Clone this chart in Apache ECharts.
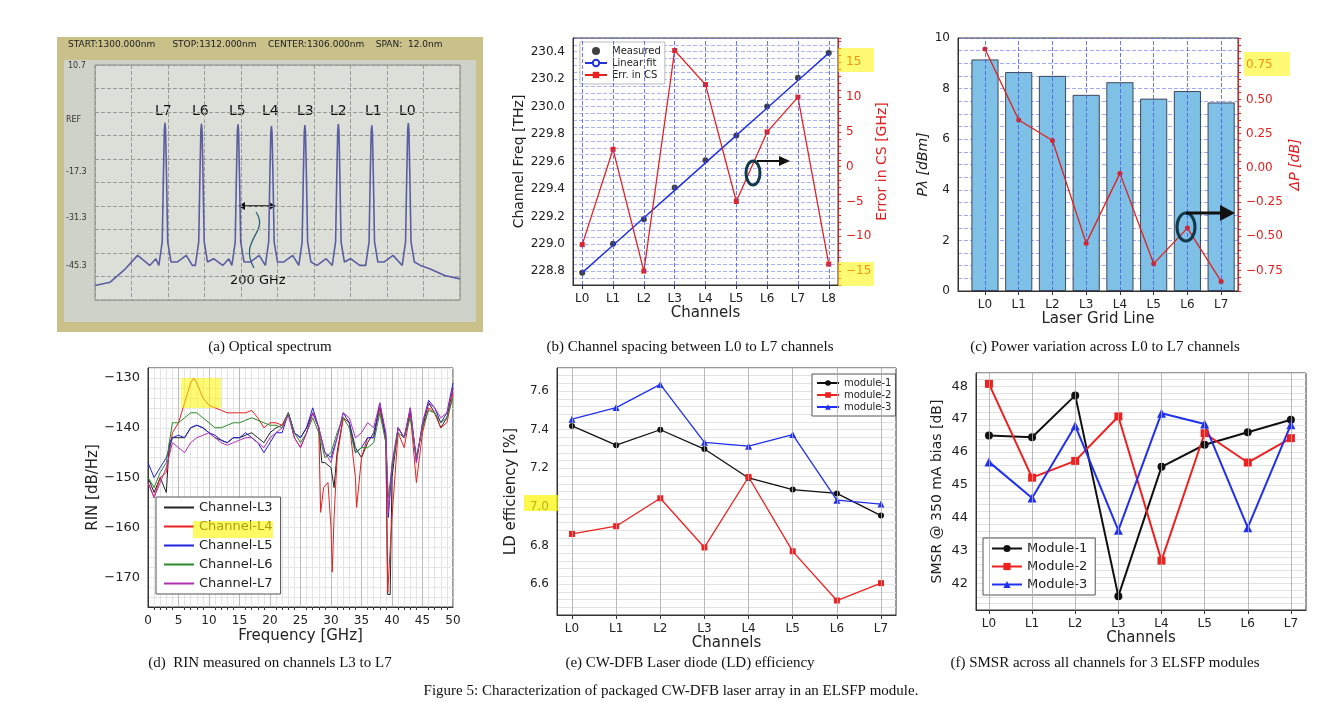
<!DOCTYPE html>
<html><head><meta charset="utf-8">
<script src="https://cdn.jsdelivr.net/npm/echarts@6/dist/echarts.min.js"></script>
<style>html,body{margin:0;background:#fff}#c{width:1342px;height:724px}</style>
</head><body><div id="c"></div>
<script>
// (a) optical spectrum, peaks L7..L0 (nm, dBm)
const specPeaks = [1302.3, 1303.5, 1304.7, 1305.8, 1306.9, 1308.0, 1309.1, 1310.3];
const specPeakLevel = [-6.5, -6.8, -7.0, -7.5, -7.2, -6.9, -7.3, -6.6];
const specFloor = [[1300,-55],[1300.5,-54],[1301,-50],[1301.4,-46],[1301.8,-49],[1302.0,-47],[1302.7,-48],[1303.0,-46],[1303.2,-49],
  [1303.9,-47],[1304.2,-49],[1304.4,-47],[1305.1,-48],[1305.4,-46],[1306.2,-48],[1306.5,-46],[1307.3,-49],[1307.6,-47],
  [1308.4,-47],[1308.7,-49],[1309.5,-48],[1309.8,-46],[1310.7,-49],[1311.0,-50],[1311.5,-52],[1312,-53]];
// (b) channel frequencies
const chB = [0,1,2,3,4,5,6,7,8];
const measured = [228.79, 229.00, 229.18, 229.41, 229.61, 229.79, 230.00, 230.21, 230.39];
const fitLine = [228.79, 228.99, 229.19, 229.39, 229.59, 229.79, 229.99, 230.19, 230.39];
const errCS = [-11.2, 2.5, -15, 16.7, 11.8, -5, 5, 10, -14];
// (c) power
const chC = [0,1,2,3,4,5,6,7];
const power = [9.15, 8.65, 8.5, 7.75, 8.25, 7.6, 7.9, 7.45];
const deltaP = [0.87, 0.35, 0.2, -0.55, -0.04, -0.7, -0.44, -0.83];
// (d) RIN [GHz, dB/Hz]
const rinL3 = [[0,-150],[1,-153],[2,-150],[3,-153],[3.5,-143],[4,-142],[5,-142],[6,-142],[7,-140],[8,-139.5],[9,-140],[10,-141],[11,-142],[12,-142.5],[13,-143],[14,-142],[15,-142],[16,-141.5],[17,-141],[18,-142],[19,-143],[20,-141],[21,-140],[22,-139.5],[23,-137],[24,-141],[25,-142],[26,-140],[27,-137],[28,-140],[28.5,-147],[29,-147],[30,-148],[30.5,-152],[31,-145],[32,-138],[33,-139],[34,-144],[35,-146],[36,-143],[37,-141],[38,-136],[39,-142],[39.3,-173.5],[39.7,-173.5],[40,-150],[41,-140],[42,-142],[43,-137],[44,-146],[45,-140],[46,-135],[47,-137],[48,-140],[49,-138],[50,-132]];
const rinL4 = [[0,-151],[1,-154],[2,-150],[3,-149],[4,-141],[5,-139],[6,-135],[7,-131],[7.5,-130],[8,-131],[9,-134],[10,-135.5],[11,-136],[12,-136.5],[13,-137],[14,-137],[15,-137],[16,-137],[17,-136.5],[18,-138],[19,-140],[20,-139],[21,-139],[22,-139.5],[23,-137],[24,-142],[25,-144],[26,-141],[27,-137],[28,-140],[28.3,-157],[28.8,-152],[29.5,-151],[30,-160],[30.2,-169],[30.5,-158],[31,-146],[32,-138],[33,-139],[34,-150],[34.2,-156],[35,-146],[36,-142],[37,-142],[38,-136],[39,-143],[39.3,-173],[39.6,-173],[40,-158],[41,-141],[42,-144],[43,-137],[44,-151],[45,-141],[46,-136],[47,-137],[48,-140],[49,-139],[50,-133]];
const rinL5 = [[0,-147],[1,-150],[2,-148],[3,-146],[4,-142],[5,-141.5],[6,-142],[7,-140],[8,-139.5],[9,-140],[10,-141],[11,-141.5],[12,-142.5],[13,-143],[14,-142],[15,-142],[16,-141],[17,-142],[18,-143],[19,-145],[20,-143],[21,-141],[22,-141],[23,-137],[24,-141],[25,-142],[26,-140],[27,-136],[28,-140],[29,-145],[30,-146],[31,-142],[32,-137],[33,-139],[34,-145],[35,-144],[36,-142],[37,-142],[38,-135],[39,-142],[39.4,-158],[40,-148],[41,-140],[42,-142],[43,-136],[44,-147],[45,-139],[46,-134.5],[47,-136],[48,-139],[49,-137],[50,-131]];
const rinL6 = [[0,-150],[1,-152],[2,-149],[3,-147],[4,-139],[5,-139],[6,-138],[7,-137],[8,-137],[9,-138],[10,-139],[11,-140],[12,-140],[13,-139.5],[14,-139],[15,-139],[16,-138.5],[17,-138],[18,-138.5],[19,-139],[20,-139.5],[21,-139.5],[22,-140],[23,-137],[24,-141],[25,-143],[26,-141],[27,-138],[28,-141],[29,-146],[30,-145],[31,-141],[32,-138],[33,-140],[34,-145],[35,-144],[36,-144],[37,-143],[38,-137],[39,-143],[39.4,-154],[40,-148],[41,-141],[42,-142],[43,-138],[44,-146],[45,-140],[46,-136.5],[47,-137],[48,-139],[49,-138],[50,-134]];
const rinL7 = [[0,-151],[1,-154],[2,-151],[3,-148],[4,-143],[5,-144],[6,-145],[7,-143],[8,-142],[9,-141.5],[10,-141],[11,-142],[12,-143],[13,-143.5],[14,-143],[15,-142.5],[16,-142],[17,-142],[18,-143],[19,-144],[20,-142],[21,-141],[22,-140],[23,-137.5],[24,-142],[25,-144],[26,-141],[27,-137],[28,-140],[29,-145],[30,-147],[31,-142],[32,-137],[33,-138],[34,-142],[35,-141],[36,-139],[37,-140],[38,-135],[39,-141],[39.4,-157],[40,-147],[41,-140],[42,-142],[43,-136],[44,-147],[45,-139],[46,-135],[47,-136],[48,-138],[49,-137],[50,-132]];
// (e) LD efficiency
const eff1 = [7.42, 7.32, 7.40, 7.30, 7.15, 7.09, 7.07, 6.955];
const eff2 = [6.86, 6.90, 7.045, 6.79, 7.155, 6.77, 6.515, 6.605];
const eff3 = [7.455, 7.515, 7.635, 7.335, 7.315, 7.375, 7.035, 7.015];
// (f) SMSR
const smsr1 = [46.5, 46.45, 47.72, 41.62, 45.55, 46.22, 46.6, 46.98];
const smsr2 = [48.07, 45.22, 45.73, 47.08, 42.7, 46.57, 45.68, 46.42];
const smsr3 = [45.7, 44.6, 46.8, 43.62, 47.18, 46.85, 43.7, 46.83];

// build spectrum points
const spectrum = specFloor.slice();
specPeaks.forEach((c, i) => {
  const p = specPeakLevel[i];
  spectrum.push([c-0.2,-49],[c-0.09,-42],[c-0.05,-22],[c-0.02,p-2],[c,p],[c+0.02,p-2],[c+0.05,-22],[c+0.09,-42],[c+0.2,-48]);
});
spectrum.sort((a, b) => a[0] - b[0]);

const pair = (xs, ys) => xs.map((x, i) => [x, ys[i]]);
const F = 'DejaVu Sans';
const lbl = (c, s) => ({ color: c || '#222', fontSize: s || 12, fontFamily: F });
const multOf = (v, m) => Math.abs(v / m - Math.round(v / m)) < 1e-6;

function chanAxis(gi, min, max, chans, name) {
  return { type: 'value', gridIndex: gi, min, max, name, nameLocation: 'middle', nameGap: 20,
    nameTextStyle: lbl('#222', 15),
    axisLabel: Object.assign(lbl('#222', 12), { customValues: chans, formatter: v => 'L' + Math.round(v) }),
    axisLine: { onZero: false, lineStyle: { color: '#333' } },
    axisTick: { show: true, customValues: chans, length: 4, lineStyle: { color: '#333' } },
    splitLine: { show: false } };
}
// vertical channel grid lines drawn from the channel arrays
function chanGrid(xi, yi, chans, color, type) {
  return { type: 'line', xAxisIndex: xi, yAxisIndex: yi, data: [], silent: true,
    markLine: { silent: true, symbol: 'none', label: { show: false },
      lineStyle: { color, type, width: 1, opacity: 0.8 }, data: chans.map(c => ({ xAxis: c })) } };
}
const yBase = { axisLine: { show: true, onZero: false, lineStyle: { color: '#333' } }, axisTick: { show: false } };

const chart = echarts.init(document.getElementById('c'));
chart.setOption({
  animation: false,
  grid: [
    { left: 95, top: 65, width: 365, height: 235, show: true, backgroundColor: '#dcdfd8', borderColor: '#8b8a80' },
    { left: 573, top: 38, width: 265, height: 247, show: true, borderColor: '#333' },
    { left: 958, top: 38, width: 280, height: 253, show: true, borderColor: '#333' },
    { left: 148, top: 368, width: 305, height: 239, show: true, borderColor: '#333' },
    { left: 557, top: 368, width: 339, height: 247, show: true, borderColor: '#333' },
    { left: 976, top: 373, width: 330, height: 237, show: true, borderColor: '#333' }
  ],
  xAxis: [
    { type: 'value', gridIndex: 0, min: 1300, max: 1312, interval: 1.2, axisLabel: { show: false }, axisTick: { show: false },
      axisLine: { show: false }, splitLine: { lineStyle: { color: '#999', type: 'dashed' } } },
    chanAxis(1, -0.3, 8.3, chB, 'Channels'),
    chanAxis(2, -0.8, 7.5, chC, 'Laser Grid Line'),
    { type: 'value', gridIndex: 3, min: 0, max: 50, interval: 5, name: 'Frequency [GHz]', nameLocation: 'middle', nameGap: 22,
      nameTextStyle: lbl('#222', 15), axisLabel: lbl('#222', 12), axisLine: { onZero: false, lineStyle: { color: '#333' } },
      axisTick: { show: false }, minorTick: { show: true, splitNumber: 5, length: 3 },
      splitLine: { lineStyle: { color: '#bbb' } }, minorSplitLine: { show: true, lineStyle: { color: '#e4e4e4' } } },
    chanAxis(4, -0.34, 7.34, chC, 'Channels'),
    chanAxis(5, -0.3, 7.35, chC, 'Channels')
  ],
  yAxis: [
    { type: 'value', gridIndex: 0, min: -59.3, max: 10.7, interval: 7, axisLabel: { show: false }, axisTick: { show: false },
      axisLine: { show: false }, splitLine: { lineStyle: { color: '#999', type: 'dashed' } } },
    Object.assign({ type: 'value', gridIndex: 1, min: 228.7, max: 230.5, interval: 0.05, name: 'Channel Freq [THz]', nameLocation: 'middle', nameGap: 40,
      nameTextStyle: lbl('#222', 14), axisLabel: Object.assign(lbl('#222', 12), { formatter: v => multOf(v, 0.2) && v > 228.75 && v < 230.45 ? v.toFixed(1) : '' }),
      splitLine: { lineStyle: { color: '#4455ee', type: 'dashed', opacity: 0.45 } } }, yBase),
    { type: 'value', gridIndex: 1, position: 'right', min: -17, max: 18.5, interval: 1, name: 'Error in CS [GHz]', nameLocation: 'middle', nameGap: 32,
      nameTextStyle: lbl('#e02020', 14), axisLabel: Object.assign(lbl('#e02020', 12), { formatter: v => multOf(v, 5) ? String(v).replace('-', '\u2212') : '' }),
      axisLine: { show: true, onZero: false, lineStyle: { color: '#e02020' } }, axisTick: { show: true, length: 3, lineStyle: { color: '#e02020' } }, splitLine: { show: false } },
    Object.assign({ type: 'value', gridIndex: 2, min: 0, max: 10, interval: 0.5, name: 'P\u03bb [dBm]', nameLocation: 'middle', nameGap: 28,
      nameTextStyle: Object.assign(lbl('#222', 14), { fontStyle: 'italic' }), axisLabel: Object.assign(lbl('#222', 12), { formatter: v => multOf(v, 2) ? v : '' }),
      splitLine: { lineStyle: { color: '#4455ee', type: 'dashed', opacity: 0.5 } } }, yBase),
    { type: 'value', gridIndex: 2, position: 'right', min: -0.9, max: 0.95, interval: 0.05, name: '\u0394P [dB]', nameLocation: 'middle', nameGap: 50,
      nameTextStyle: Object.assign(lbl('#e02020', 14), { fontStyle: 'italic' }), axisLabel: Object.assign(lbl('#e02020', 12), { formatter: v => multOf(v, 0.25) ? v.toFixed(2).replace('-', '\u2212') : '' }),
      axisLine: { show: true, onZero: false, lineStyle: { color: '#e02020' } }, axisTick: { show: true, length: 3, lineStyle: { color: '#e02020' } }, splitLine: { show: false } },
    Object.assign({ type: 'value', gridIndex: 3, min: -176, max: -128, interval: 2, name: 'RIN [dB/Hz]', nameLocation: 'middle', nameGap: 44,
      nameTextStyle: lbl('#222', 15), axisLabel: Object.assign(lbl('#222', 13), { formatter: v => multOf(v, 10) ? String(v).replace('-', '\u2212') : '' }),
      splitLine: { lineStyle: { color: '#e6e6e6' } } }, yBase),
    Object.assign({ type: 'value', gridIndex: 4, min: 6.44, max: 7.72, interval: 0.04, name: 'LD efficiency [%]', nameLocation: 'middle', nameGap: 38,
      nameTextStyle: lbl('#222', 15), axisLabel: Object.assign(lbl('#222', 12), { formatter: v => multOf(v, 0.2) ? v.toFixed(1) : '' }),
      splitLine: { lineStyle: { color: '#e2e2e2' } } }, yBase),
    Object.assign({ type: 'value', gridIndex: 5, min: 41.2, max: 48.4, interval: 0.2, name: 'SMSR @ 350 mA bias [dB]', nameLocation: 'middle', nameGap: 32,
      nameTextStyle: lbl('#222', 14), axisLabel: Object.assign(lbl('#222', 13), { formatter: v => multOf(v, 1) ? Math.round(v) : '' }),
      splitLine: { lineStyle: { color: '#e2e2e2' } } }, yBase)
  ],
  legend: [
    { top: 42, left: 580, orient: 'vertical', itemGap: 2, itemWidth: 22, itemHeight: 8, backgroundColor: '#fff', borderColor: '#bbb', borderWidth: 1, padding: 4,
      textStyle: lbl('#222', 10), data: ['Measured', 'Linear fit', 'Err. in CS'] },
    { top: 497, left: 156, orient: 'vertical', itemGap: 6, itemWidth: 30, itemHeight: 2, backgroundColor: '#fff', borderColor: '#555', borderWidth: 1, padding: [4, 8],
      textStyle: lbl('#222', 13), icon: 'rect', data: ['Channel-L3', 'Channel-L4', 'Channel-L5', 'Channel-L6', 'Channel-L7'] },
    { top: 374, left: 812, orient: 'vertical', itemGap: 2, itemWidth: 22, itemHeight: 7, backgroundColor: '#fff', borderColor: '#555', borderWidth: 1, padding: 4,
      textStyle: lbl('#222', 10), data: ['module-1', 'module-2', 'module-3'] },
    { top: 538, left: 983, orient: 'vertical', itemGap: 5, itemWidth: 30, itemHeight: 9, backgroundColor: '#fff', borderColor: '#555', borderWidth: 1, padding: [4, 8],
      textStyle: lbl('#222', 13), data: ['Module-1', 'Module-2', 'Module-3'] }
  ],
  series: [
    { type: 'line', xAxisIndex: 0, yAxisIndex: 0, data: spectrum, showSymbol: false, lineStyle: { color: '#5a5ea0', width: 1.6 } },
    chanGrid(1, 1, chB, '#4455ee', 'dashed'),
    chanGrid(2, 3, chC, '#4455ee', 'dashed'),
    chanGrid(4, 6, chC, '#aaa', 'solid'),
    chanGrid(5, 7, chC, '#aaa', 'solid'),
    { name: 'Linear fit', type: 'line', xAxisIndex: 1, yAxisIndex: 1, data: pair(chB, fitLine), showSymbol: false, lineStyle: { color: '#2233dd', width: 1.5 }, itemStyle: { color: '#2233dd' } },
    { name: 'Measured', type: 'scatter', xAxisIndex: 1, yAxisIndex: 1, data: pair(chB, measured), symbolSize: 6, itemStyle: { color: '#111' } },
    { name: 'Err. in CS', type: 'line', xAxisIndex: 1, yAxisIndex: 2, data: pair(chB, errCS), symbol: 'rect', symbolSize: 5, lineStyle: { color: '#e82020', width: 1.3 }, itemStyle: { color: '#e82020' } },
    { type: 'bar', xAxisIndex: 2, yAxisIndex: 3, data: pair(chC, power), barWidth: 27, itemStyle: { color: '#7ec0e6', borderColor: '#223', borderWidth: 0.8 } },
    { type: 'line', xAxisIndex: 2, yAxisIndex: 4, data: pair(chC, deltaP), symbolSize: 5, symbol: 'circle', lineStyle: { color: '#e02020', width: 1.3 }, itemStyle: { color: '#e02020' } },
    { name: 'Channel-L3', type: 'line', xAxisIndex: 3, yAxisIndex: 5, data: rinL3, showSymbol: false, lineStyle: { color: '#222', width: 1 }, itemStyle: { color: '#222' } },
    { name: 'Channel-L4', type: 'line', xAxisIndex: 3, yAxisIndex: 5, data: rinL4, showSymbol: false, lineStyle: { color: '#e82020', width: 1 }, itemStyle: { color: '#e82020' } },
    { name: 'Channel-L5', type: 'line', xAxisIndex: 3, yAxisIndex: 5, data: rinL5, showSymbol: false, lineStyle: { color: '#2020dd', width: 1 }, itemStyle: { color: '#2020dd' } },
    { name: 'Channel-L6', type: 'line', xAxisIndex: 3, yAxisIndex: 5, data: rinL6, showSymbol: false, lineStyle: { color: '#2a8a2a', width: 1 }, itemStyle: { color: '#2a8a2a' } },
    { name: 'Channel-L7', type: 'line', xAxisIndex: 3, yAxisIndex: 5, data: rinL7, showSymbol: false, lineStyle: { color: '#b030b0', width: 1 }, itemStyle: { color: '#b030b0' } },
    { name: 'module-1', type: 'line', xAxisIndex: 4, yAxisIndex: 6, data: pair(chC, eff1), symbol: 'circle', symbolSize: 6, lineStyle: { color: '#111', width: 1.3 }, itemStyle: { color: '#111' } },
    { name: 'module-2', type: 'line', xAxisIndex: 4, yAxisIndex: 6, data: pair(chC, eff2), symbol: 'rect', symbolSize: 6, lineStyle: { color: '#ee2020', width: 1.3 }, itemStyle: { color: '#ee2020' } },
    { name: 'module-3', type: 'line', xAxisIndex: 4, yAxisIndex: 6, data: pair(chC, eff3), symbol: 'triangle', symbolSize: 7, lineStyle: { color: '#2030ee', width: 1.3 }, itemStyle: { color: '#2030ee' } },
    { name: 'Module-1', type: 'line', xAxisIndex: 5, yAxisIndex: 7, data: pair(chC, smsr1), symbol: 'circle', symbolSize: 8, lineStyle: { color: '#111', width: 2 }, itemStyle: { color: '#111' } },
    { name: 'Module-2', type: 'line', xAxisIndex: 5, yAxisIndex: 7, data: pair(chC, smsr2), symbol: 'rect', symbolSize: 8, lineStyle: { color: '#ee2020', width: 2 }, itemStyle: { color: '#ee2020' } },
    { name: 'Module-3', type: 'line', xAxisIndex: 5, yAxisIndex: 7, data: pair(chC, smsr3), symbol: 'triangle', symbolSize: 9, lineStyle: { color: '#2030ee', width: 2 }, itemStyle: { color: '#2030ee' } }
  ],
  graphic: [
    // photo frame of (a)
    { type: 'rect', z: -10, shape: { x: 57, y: 37, width: 426, height: 295 }, style: { fill: '#c9c08a' } },
    { type: 'rect', z: -9, shape: { x: 64, y: 60, width: 412, height: 262 }, style: { fill: '#cfd2c8' } },
    { type: 'text', x: 68, y: 40, style: { text: 'START:1300.000nm      STOP:1312.000nm    CENTER:1306.000nm    SPAN:  12.0nm', font: '9px DejaVu Sans', fill: '#222' } },
    { type: 'text', x: 68, y: 62, style: { text: '10.7', font: '8px DejaVu Sans', fill: '#333' } },
    { type: 'text', x: 66, y: 116, style: { text: 'REF', font: '8px DejaVu Sans', fill: '#333' } },
    { type: 'text', x: 66, y: 168, style: { text: '-17.3', font: '8px DejaVu Sans', fill: '#333' } },
    { type: 'text', x: 66, y: 214, style: { text: '-31.3', font: '8px DejaVu Sans', fill: '#333' } },
    { type: 'text', x: 66, y: 262, style: { text: '-45.3', font: '8px DejaVu Sans', fill: '#333' } },
    ...['L7','L6','L5','L4','L3','L2','L1','L0'].map((t, i) => ({ type: 'text', x: [155,192,229,262,297,330,365,399][i], y: 104,
      style: { text: t, font: '14px DejaVu Sans', fill: '#111' } })),
    { type: 'line', shape: { x1: 240, y1: 206, x2: 274, y2: 206 }, style: { stroke: '#111', lineWidth: 1.5 } },
    { type: 'polygon', shape: { points: [[238,206],[245,202],[245,210]] }, style: { fill: '#111' } },
    { type: 'polygon', shape: { points: [[276,206],[269,202],[269,210]] }, style: { fill: '#111' } },
    { type: 'bezierCurve', shape: { x1: 254, y1: 268, x2: 256, y2: 212, cpx1: 238, cpy1: 240, cpx2: 270, cpy2: 232 }, style: { stroke: '#2a6070', lineWidth: 1.3, fill: null } },
    { type: 'text', x: 230, y: 274, style: { text: '200 GHz', font: '13px DejaVu Sans', fill: '#111' } },
    // highlights
    { type: 'rect', z: 50, shape: { x: 838, y: 48, width: 36, height: 24 }, style: { fill: 'rgba(255,245,0,0.55)' } },
    { type: 'rect', z: 50, shape: { x: 838, y: 262, width: 36, height: 24 }, style: { fill: 'rgba(255,245,0,0.55)' } },
    { type: 'rect', z: 50, shape: { x: 1244, y: 52, width: 46, height: 24 }, style: { fill: 'rgba(255,245,0,0.55)' } },
    { type: 'rect', z: 50, shape: { x: 181, y: 378, width: 40, height: 30 }, style: { fill: 'rgba(255,245,0,0.55)' } },
    { type: 'rect', z: 50, shape: { x: 193, y: 521, width: 80, height: 17 }, style: { fill: 'rgba(255,245,0,0.6)' } },
    { type: 'rect', z: 50, shape: { x: 524, y: 495, width: 34, height: 16 }, style: { fill: 'rgba(255,245,0,0.7)' } },
    // ellipses and arrows
    { type: 'ellipse', z: 60, shape: { cx: 753, cy: 173, rx: 7, ry: 12 }, style: { stroke: '#123a4a', lineWidth: 3, fill: null } },
    { type: 'line', z: 60, shape: { x1: 757, y1: 161, x2: 782, y2: 161 }, style: { stroke: '#111', lineWidth: 2 } },
    { type: 'polygon', z: 60, shape: { points: [[790,161],[779,156],[779,166]] }, style: { fill: '#111' } },
    { type: 'ellipse', z: 60, shape: { cx: 1186, cy: 227, rx: 9, ry: 14 }, style: { stroke: '#123a4a', lineWidth: 3, fill: null } },
    { type: 'line', z: 60, shape: { x1: 1186, y1: 213, x2: 1222, y2: 213 }, style: { stroke: '#111', lineWidth: 3 } },
    { type: 'polygon', z: 60, shape: { points: [[1235,213],[1220,205],[1220,221]] }, style: { fill: '#111' } },
    // captions
    ...[['(a) Optical spectrum', 270, 347], ['(b) Channel spacing between L0 to L7 channels', 690, 347], ['(c) Power variation across L0 to L7 channels', 1105, 347],
        ['(d)  RIN measured on channels L3 to L7', 270, 663], ['(e) CW-DFB Laser diode (LD) efficiency', 690, 663], ['(f) SMSR across all channels for 3 ELSFP modules', 1105, 663],
        ['Figure 5: Characterization of packaged CW-DFB laser array in an ELSFP module.', 671, 691]]
      .map(([t, x, y]) => ({ type: 'text', x, y, style: { text: t, font: '15px Liberation Serif', fill: '#111', textAlign: 'center', textVerticalAlign: 'middle' } }))
  ]
});
</script></body></html>
